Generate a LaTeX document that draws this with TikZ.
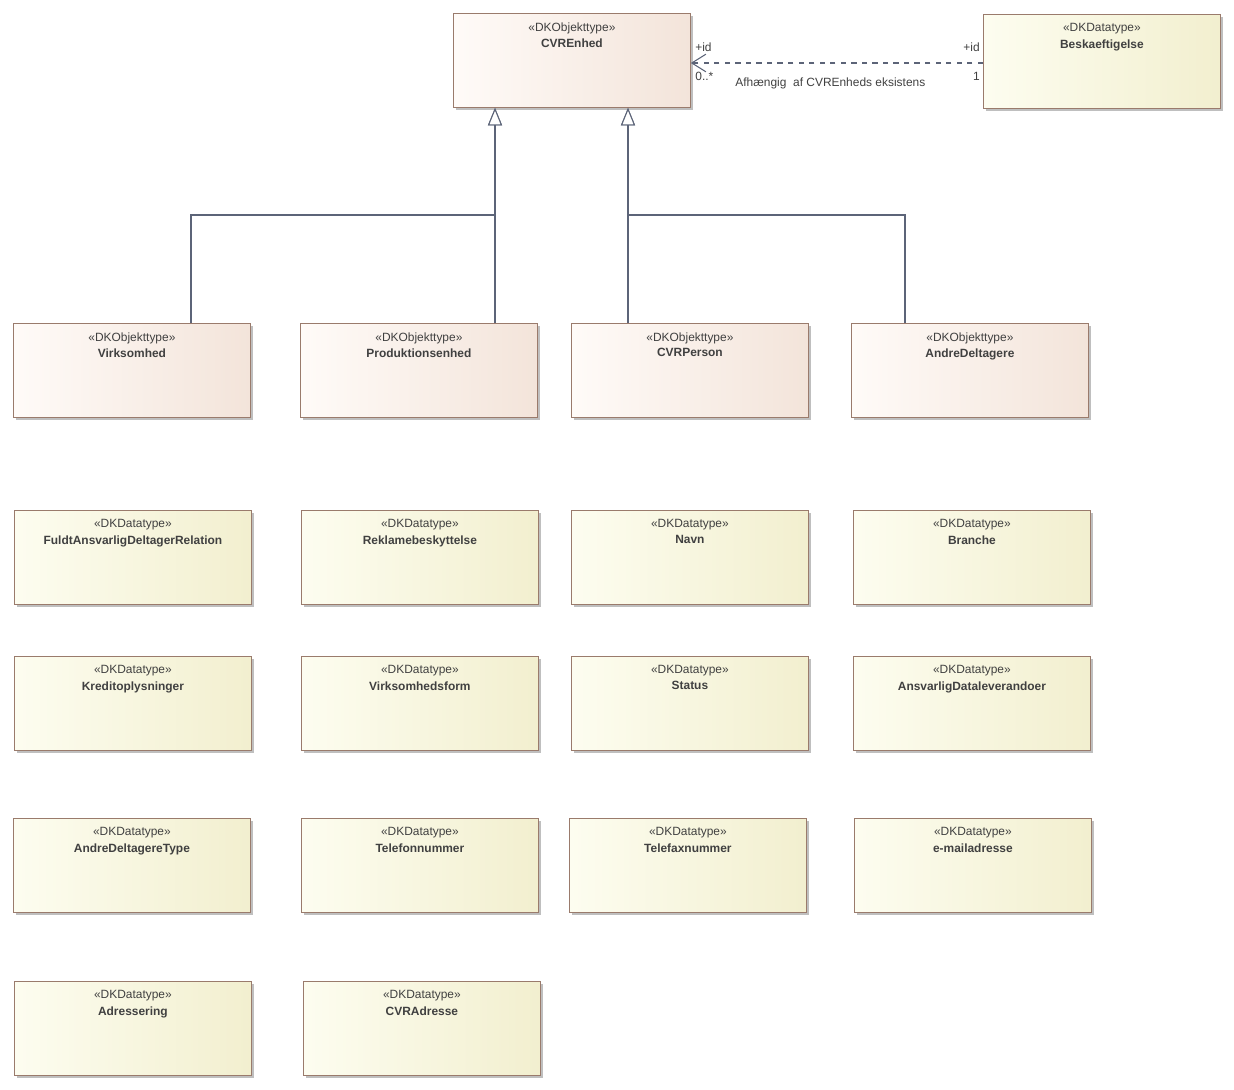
\documentclass[tikz,border=0pt]{standalone}
\usepackage{fontspec}
\setmainfont{Liberation Sans}
\usetikzlibrary{arrows.meta}
\definecolor{edgebrown}{HTML}{9A7B6C}
\definecolor{linegray}{HTML}{5C6478}
\definecolor{objleft}{HTML}{FFFBF8}
\definecolor{objright}{HTML}{F3E4DA}
\definecolor{dtleft}{HTML}{FDFDF0}
\definecolor{dtright}{HTML}{F2EFCF}
\tikzset{
  box/.style={draw=edgebrown, line width=0.5pt, minimum width=4.74cm, minimum height=1.88cm,
    inner sep=0pt, anchor=north west},
  obj/.style={box, left color=objleft, right color=objright},
  dt/.style={box, left color=dtleft, right color=dtright},
  shade/.style={fill=black!25, draw=none, minimum width=4.74cm, minimum height=1.88cm, anchor=north west},
  txt/.style={font=\fontsize{6.8}{8}\selectfont, text=black!75, inner sep=0pt},
  gen/.style={draw=linegray, line width=0.6pt, -{Triangle[open, width=8pt, length=10pt, fill=white]}},
}
% box: name, style, left, top, stereotype, title
\newcommand{\umlbox}[6]{
  \node[shade] at (#3+3,#4+3) {};
  \node[#2] (#1) at (#3,#4) {};
  \node[txt, anchor=north] at ([yshift=-0.18cm]#1.north) {«#5»};
  \node[txt, anchor=north, font=\fontsize{6.8}{8}\selectfont\bfseries] at ([yshift=-0.5cm]#1.north) {#6};
}
\begin{document}
\begin{tikzpicture}[x=0.02cm, y=-0.02cm]
  \useasboundingbox (0,0) rectangle (1234,1089);
  \umlbox{cvrenhed}{obj}{453}{13}{DKObjekttype}{CVREnhed}
  \umlbox{beskaeft}{dt}{983}{14}{DKDatatype}{Beskaeftigelse}
  % subtypes
  \umlbox{virk}{obj}{13}{323}{DKObjekttype}{Virksomhed}
  \umlbox{prod}{obj}{300}{323}{DKObjekttype}{Produktionsenhed}
  \umlbox{person}{obj}{571}{323}{DKObjekttype}{CVRPerson}
  \umlbox{andre}{obj}{851}{323}{DKObjekttype}{AndreDeltagere}
  % datatypes
  \umlbox{fuldt}{dt}{14}{510}{DKDatatype}{FuldtAnsvarligDeltagerRelation}
  \umlbox{reklame}{dt}{301}{510}{DKDatatype}{Reklamebeskyttelse}
  \umlbox{navn}{dt}{571}{510}{DKDatatype}{Navn}
  \umlbox{branche}{dt}{853}{510}{DKDatatype}{Branche}
  \umlbox{kredit}{dt}{14}{656}{DKDatatype}{Kreditoplysninger}
  \umlbox{virkform}{dt}{301}{656}{DKDatatype}{Virksomhedsform}
  \umlbox{status}{dt}{571}{656}{DKDatatype}{Status}
  \umlbox{ansvarlig}{dt}{853}{656}{DKDatatype}{AnsvarligDataleverandoer}
  \umlbox{andretype}{dt}{13}{818}{DKDatatype}{AndreDeltagereType}
  \umlbox{telefon}{dt}{301}{818}{DKDatatype}{Telefonnummer}
  \umlbox{telefax}{dt}{569}{818}{DKDatatype}{Telefaxnummer}
  \umlbox{email}{dt}{854}{818}{DKDatatype}{e-mailadresse}
  \umlbox{adress}{dt}{14}{981}{DKDatatype}{Adressering}
  \umlbox{cvradr}{dt}{303}{981}{DKDatatype}{CVRAdresse}
  % generalisations
  \draw[gen] (virk.north -| 191,0) |- (495,215) -- (cvrenhed.south -| 495,0);
  \draw[gen] (prod.north -| 495,0) -- (cvrenhed.south -| 495,0);
  \draw[gen] (person.north -| 628,0) -- (cvrenhed.south -| 628,0);
  \draw[gen] (andre.north -| 905,0) |- (628,215) -- (cvrenhed.south -| 628,0);
  % dependency
  \draw[draw=linegray, line width=0.6pt, dashed, -{Straight Barb[width=10pt, length=8pt]}]
    (beskaeft.west |- 0,63) -- (cvrenhed.east |- 0,63);
  \node[txt, anchor=west] at (695,47) {+id};
  \node[txt, anchor=west] at (695,76) {0..*};
  \node[txt, anchor=east] at (980,47) {+id};
  \node[txt, anchor=east] at (980,76) {1};
  \node[txt, anchor=west] at (735,83) {Afhængig\ \ af CVREnheds eksistens};
\end{tikzpicture}
\end{document}
